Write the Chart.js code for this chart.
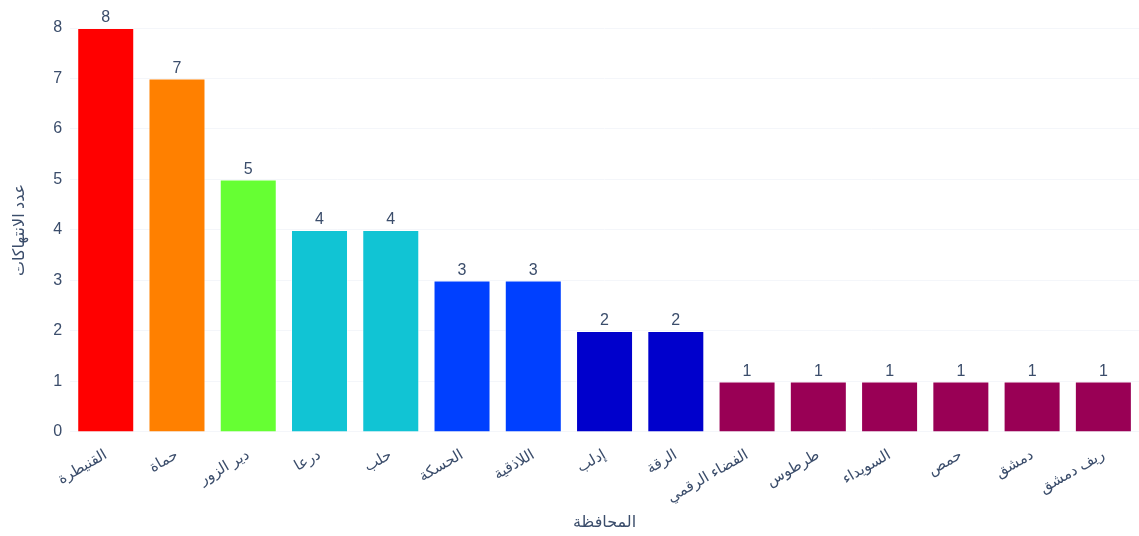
<!DOCTYPE html>
<html>
<head>
<meta charset="utf-8">
<script src="https://cdn.jsdelivr.net/npm/chart.js@4"></script>
<style>
  html, body { margin: 0; padding: 0; background: #fff; }
  #wrap { width: 1139px; height: 536px; position: relative; }
</style>
</head>
<body>
<div id="wrap"><canvas id="violationsChart"></canvas></div>
<script>
// Violations per governorate
const governorates = ['القنيطرة', 'حماة', 'دير الزور', 'درعا', 'حلب', 'الحسكة', 'اللاذقية', 'إدلب', 'الرقة', 'الفضاء الرقمي', 'طرطوس', 'السويداء', 'حمص', 'دمشق', 'ريف دمشق'];
const violations = [8, 7, 5, 4, 4, 3, 3, 2, 2, 1, 1, 1, 1, 1, 1];
const yTicks = [0, 1, 2, 3, 4, 5, 6, 7, 8];

// colour by count, same scale as the bars
const countColors = { 8: '#ff0000', 7: '#ff8000', 5: '#66ff33', 4: '#11c4d4', 3: '#0040ff', 2: '#0000cc', 1: '#990055' };

const textColor = '#3b4d6b';
const fontFamily = 'Arial, "Liberation Sans", "DejaVu Sans", sans-serif';

// Value labels above each bar
const barLabels = {
  id: 'barLabels',
  afterDatasetsDraw(chart) {
    const ctx = chart.ctx;
    const meta = chart.getDatasetMeta(0);
    ctx.save();
    ctx.fillStyle = textColor;
    ctx.font = '16px ' + fontFamily;
    ctx.textAlign = 'center';
    ctx.textBaseline = 'bottom';
    meta.data.forEach((bar, i) => {
      ctx.fillText(String(violations[i]), bar.x, bar.y - 2);
    });
    ctx.restore();
  }
};

new Chart(document.getElementById('violationsChart'), {
  type: 'bar',
  data: {
    labels: governorates,
    datasets: [{
      data: violations,
      backgroundColor: violations.map(v => countColors[v]),
      borderColor: 'rgba(255,255,255,0.6)',
      borderWidth: 1,
      categoryPercentage: 0.8,
      barPercentage: 1.0
    }]
  },
  options: {
    responsive: true,
    maintainAspectRatio: false,
    animation: false,
    layout: { padding: { top: 28, right: 0, left: 6, bottom: 0 } },
    plugins: {
      legend: { display: false },
      tooltip: { enabled: false }
    },
    scales: {
      x: {
        grid: { display: false },
        border: { display: false },
        ticks: {
          color: textColor,
          font: { size: 15, family: fontFamily },
          minRotation: 30,
          maxRotation: 30,
          autoSkip: false,
          padding: 6
        },
        title: {
          display: true,
          text: 'المحافظة',
          color: textColor,
          font: { size: 16, family: fontFamily },
          padding: { top: 0 }
        }
      },
      y: {
        min: 0,
        max: 8,
        afterBuildTicks(axis) { axis.ticks = yTicks.map(v => ({ value: v })); },
        grid: { color: '#f4f6fa', drawTicks: false },
        border: { display: false },
        ticks: {
          color: textColor,
          font: { size: 16, family: fontFamily },
          padding: 8
        },
        title: {
          display: true,
          text: 'عدد الانتهاكات',
          color: textColor,
          font: { size: 16, family: fontFamily },
          padding: { bottom: 16 }
        }
      }
    }
  },
  plugins: [barLabels]
});
</script>
</body>
</html>
